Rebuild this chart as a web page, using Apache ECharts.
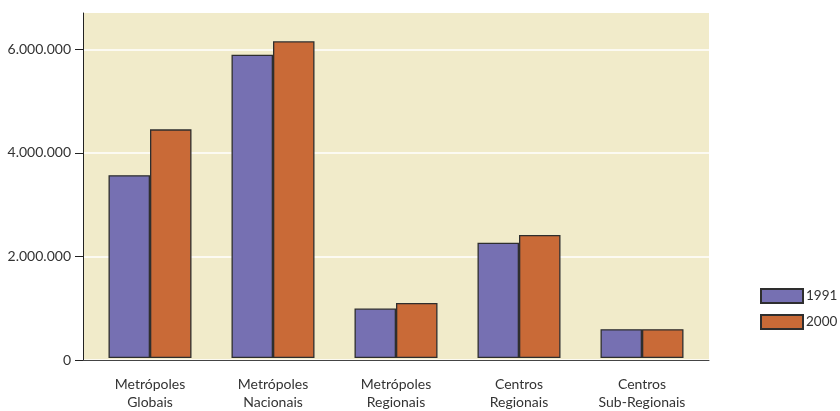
<!DOCTYPE html>
<html>
<head>
<meta charset="utf-8">
<script src="https://cdn.jsdelivr.net/npm/echarts@6/dist/echarts.min.js"></script>
<style>
html,body{margin:0;padding:0;background:#fff;}
#chart{width:840px;height:411px;}
</style>
</head>
<body>
<div id="chart"></div>
<script>
const categories = ["Metrópoles\nGlobais", "Metrópoles\nNacionais", "Metrópoles\nRegionais", "Centros\nRegionais", "Centros\nSub-Regionais"];
const seriesNames = ["1991", "2000"];
const values1991 = [3550000, 5890000, 960000, 2240000, 560000];
const values2000 = [4440000, 6150000, 1070000, 2390000, 560000];
const yTicks = [0, 2000000, 4000000, 6000000];
const yMax = 6700000;

const fmt = v => String(v).replace(/\B(?=(\d{3})+(?!\d))/g, '.');
const font = 'Lato, "Noto Sans", sans-serif';
const textColor = '#333';

const chart = echarts.init(document.getElementById('chart'), null, {renderer: 'canvas'});
chart.setOption({
  animation: false,
  backgroundColor: '#ffffff',
  textStyle: {fontFamily: font},
  grid: [
    {left: 83, right: 131, top: 13, bottom: 51, show: true, backgroundColor: '#f1ebca', borderWidth: 0},
    {left: 88.5, right: 136.5, top: 13, bottom: 51}
  ],
  xAxis: [
    {gridIndex: 0, type: 'category', data: categories, boundaryGap: true,
     axisLine: {show: true, lineStyle: {color: '#444', width: 1}},
     axisTick: {show: false}, axisLabel: {show: false}, splitLine: {show: false}},
    {gridIndex: 1, type: 'category', data: categories, boundaryGap: true,
     axisLine: {show: false}, axisTick: {show: false},
     axisLabel: {color: textColor, fontSize: 14, fontFamily: font, lineHeight: 18, margin: 17, interval: 0}}
  ],
  yAxis: [
    {gridIndex: 0, type: 'value', min: 0, max: yMax,
     axisLine: {show: true, lineStyle: {color: '#222', width: 1}},
     axisTick: {show: true, length: 8, customValues: yTicks, lineStyle: {color: '#222'}},
     axisLabel: {customValues: yTicks, formatter: fmt, color: textColor, fontSize: 14, fontFamily: font, margin: 12},
     splitLine: {show: true, lineStyle: {color: '#ffffff', width: 1.5}}},
    {gridIndex: 1, type: 'value', min: 0, max: yMax, show: false, splitLine: {show: false}}
  ],
  legend: {
    orient: 'vertical', left: 755, top: 283, itemWidth: 42, itemHeight: 14, itemGap: 10,
    icon: 'rect', data: seriesNames,
    textStyle: {color: textColor, fontSize: 13.5, fontFamily: font, padding: [0, 0, 0, -2]}
  },
  series: [
    {name: seriesNames[0], type: 'bar', xAxisIndex: 1, yAxisIndex: 1, data: values1991,
     barWidth: 41.5, barGap: '0%',
     itemStyle: {color: '#7670b2', borderColor: '#2e2e2e', borderWidth: 1.3}},
    {name: seriesNames[1], type: 'bar', xAxisIndex: 1, yAxisIndex: 1, data: values2000,
     barWidth: 41.5, barGap: '0%',
     itemStyle: {color: '#c96a37', borderColor: '#2e2e2e', borderWidth: 1.3}}
  ]
});
</script>
</body>
</html>
